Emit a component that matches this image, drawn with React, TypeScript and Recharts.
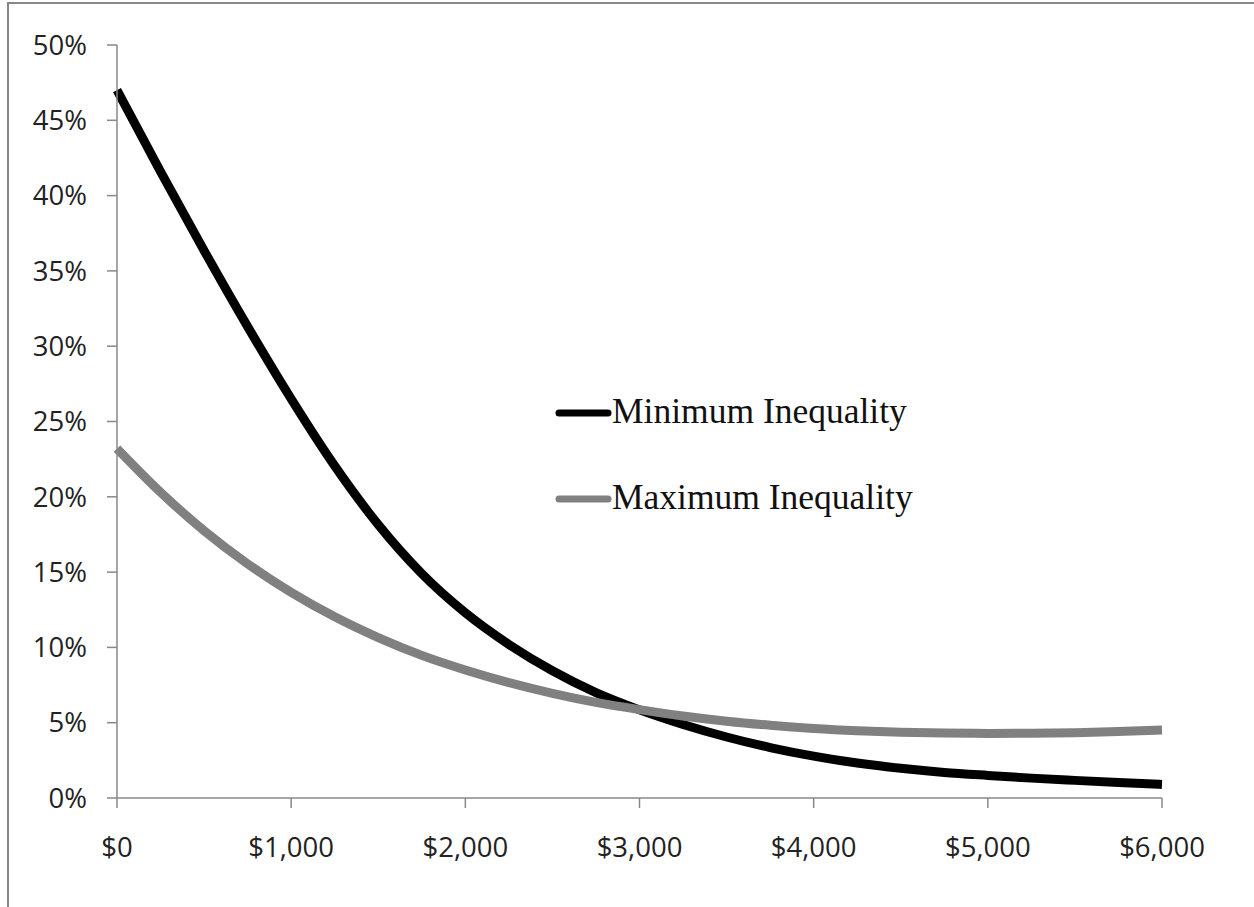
import React from "react";
import {
  LineChart,
  Line,
  XAxis,
  YAxis,
  Legend,
} from "recharts";

// income ($) along the x axis
const incomes = [
  0, 250, 500, 750, 1000, 1250, 1500, 1750, 2000, 2250, 2500, 2750, 3000,
  3250, 3500, 3750, 4000, 4250, 4500, 4750, 5000, 5250, 5500, 5750, 6000,
];

// probability (%)
const minInequality = [
  47.0, 41.6, 36.35, 31.3, 26.5, 22.05, 18.15, 14.9, 12.3, 10.2, 8.45, 7.0,
  5.85, 4.88, 4.05, 3.35, 2.78, 2.32, 1.97, 1.7, 1.5, 1.32, 1.17, 1.03, 0.9,
];
const maxInequality = [
  23.2, 20.3, 17.75, 15.55, 13.65, 12.03, 10.65, 9.47, 8.5, 7.66, 6.95, 6.35,
  5.87, 5.45, 5.1, 4.83, 4.62, 4.47, 4.37, 4.31, 4.29, 4.3, 4.34, 4.41, 4.51,
];

const xTicks = [0, 1000, 2000, 3000, 4000, 5000, 6000];
const yTicks = [0, 5, 10, 15, 20, 25, 30, 35, 40, 45, 50];

const seriesNames = ["Minimum Inequality", "Maximum Inequality"];

const data = incomes.map((x, i) => ({
  income: x,
  min: minInequality[i],
  max: maxInequality[i],
}));

const axisColor = "#888888";
const labelFont = "'Open Sans', 'Noto Sans', sans-serif";

const money = (v: number) => "$" + v.toLocaleString("en-US");

function LegendBox({ payload }: any) {
  const items = (payload || [])
    .filter((p: any) => p.type !== "none")
    .slice()
    .sort(
      (a: any, b: any) => seriesNames.indexOf(a.value) - seriesNames.indexOf(b.value)
    );
  return (
    <svg width={420} height={140}>
      {items.map((p: any, i: number) => {
        const y = 28 + i * 86;
        return (
          <g key={p.value}>
            <line
              x1={4}
              x2={53}
              y1={y}
              y2={y}
              stroke={p.color}
              strokeWidth={7}
              strokeLinecap="round"
            />
            <text
              x={57}
              y={y + 10}
              fontFamily="'Liberation Serif', 'DejaVu Serif', serif"
              fontSize={35.5}
              fill="#111"
            >
              {p.value}
            </text>
          </g>
        );
      })}
    </svg>
  );
}

export default function App() {
  return (
    <div
      style={{
        position: "absolute",
        left: 0,
        top: 0,
        width: 1254,
        height: 907,
        background: "#fff",
        overflow: "hidden",
      }}
    >
      <div
        style={{
          position: "absolute",
          left: 7,
          top: 2,
          width: 1260,
          height: 920,
          borderLeft: "2px solid #878787",
          borderTop: "2px solid #878787",
        }}
      />
      <LineChart
        width={1254}
        height={907}
        data={data}
        margin={{ top: 45, right: 92, bottom: 0, left: 0 }}
      >
        <XAxis
          dataKey="income"
          type="number"
          domain={[0, 6000]}
          ticks={xTicks}
          tickFormatter={money}
          height={109}
          stroke={axisColor}
          strokeWidth={1.5}
          tickSize={10}
          tickMargin={29}
          tick={{ fill: "#222", fontSize: 27.5, fontFamily: labelFont }}
        />
        <YAxis
          type="number"
          domain={[0, 50]}
          ticks={yTicks}
          tickFormatter={(v: number) => `${v}%`}
          width={117}
          stroke={axisColor}
          strokeWidth={1.5}
          tickSize={10}
          tickMargin={20}
          tick={{ fill: "#222", fontSize: 27.5, fontFamily: labelFont }}
        />
        <Legend
          layout="vertical"
          align="center"
          verticalAlign="middle"
          wrapperStyle={{ left: 555, top: 385, width: 420, height: 140 }}
          content={<LegendBox />}
        />
        <Line
          name={seriesNames[0]}
          dataKey="min"
          type="monotone"
          stroke="#000000"
          strokeWidth={9}
          dot={false}
          activeDot={false}
          isAnimationActive={false}
        />
        <Line
          name={seriesNames[1]}
          dataKey="max"
          type="monotone"
          stroke="#808080"
          strokeWidth={9}
          dot={false}
          activeDot={false}
          isAnimationActive={false}
        />
      </LineChart>
    </div>
  );
}
